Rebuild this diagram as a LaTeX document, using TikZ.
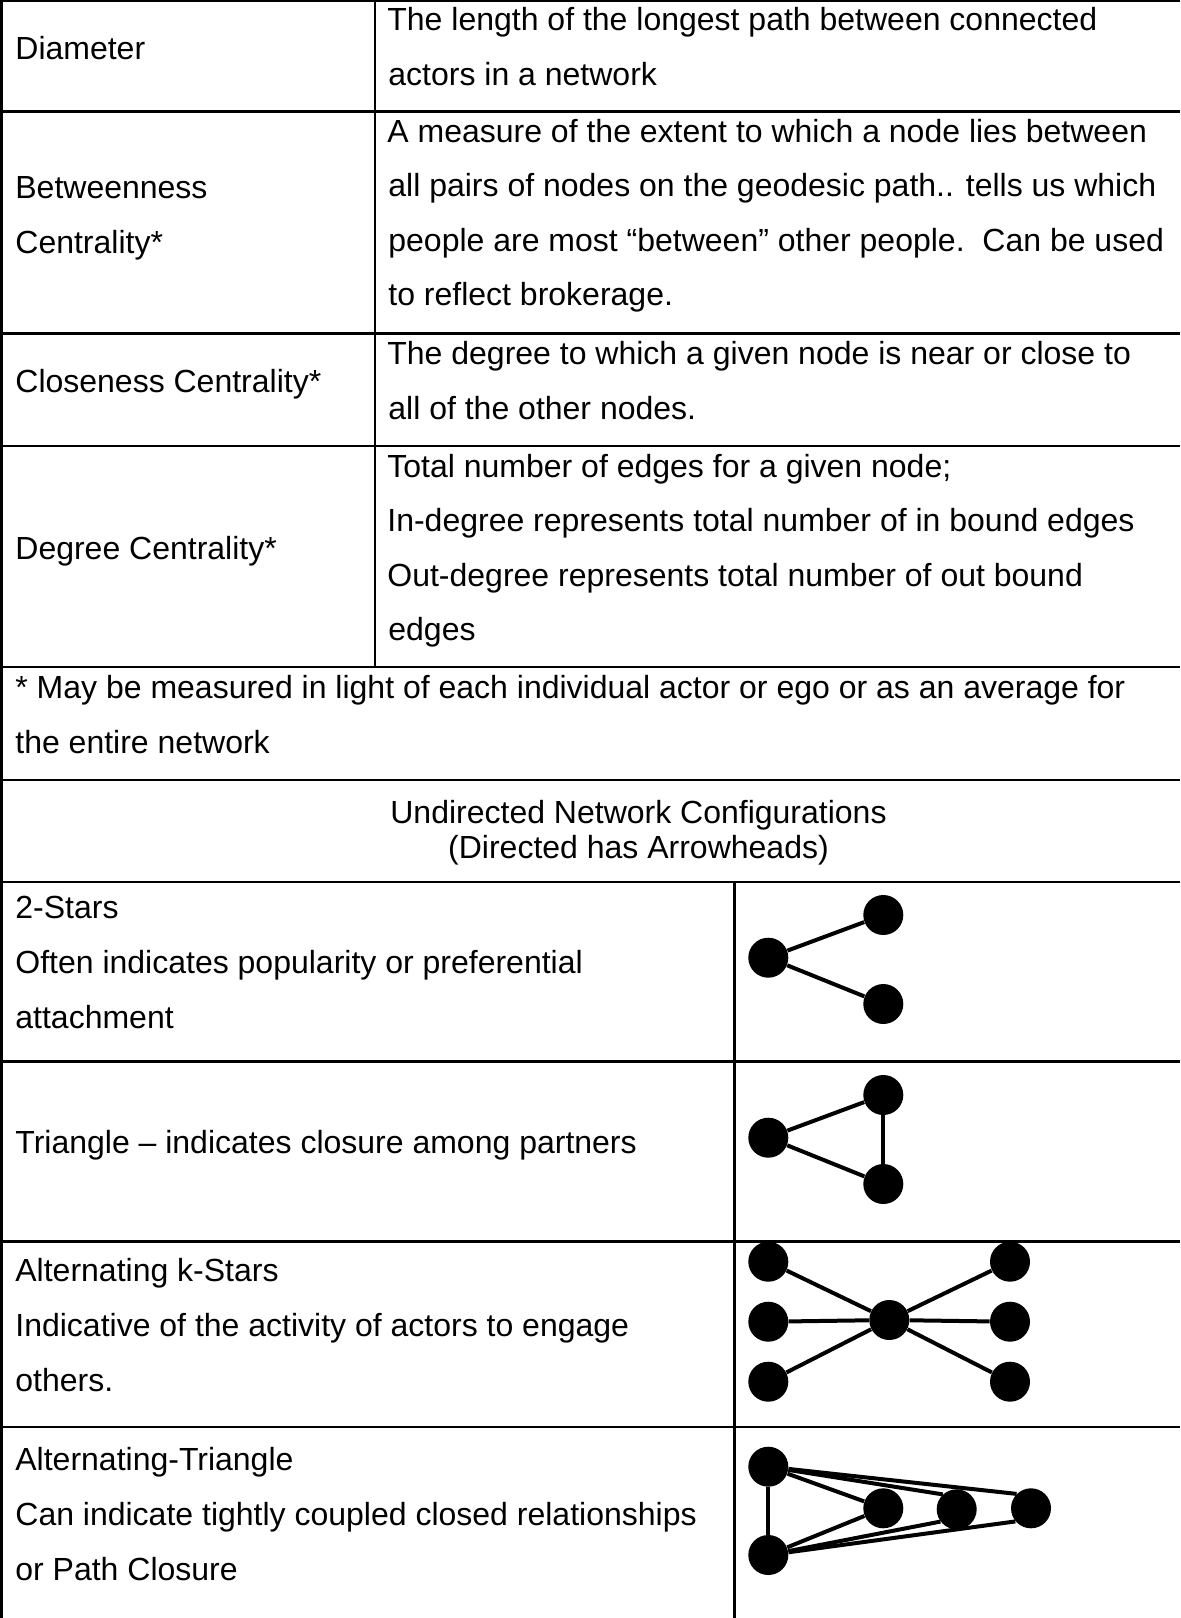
\documentclass[tikz,border=0pt]{standalone}
\usepackage{fontspec}
\setmainfont{Liberation Sans}
\begin{document}
\begin{tikzpicture}[x=0.5pt,y=-0.5pt,
  grid/.style={line width=1.25pt},
  txt/.style={anchor=base west,inner sep=0pt,font=\fontsize{16}{18}\selectfont},
  ctxt/.style={anchor=base,inner sep=0pt,font=\fontsize{16}{18}\selectfont},
  dot/.style={circle,fill=black,inner sep=0pt,minimum size=20pt},
  edge/.style={line width=2pt}]
\useasboundingbox (0,0) rectangle (1180,1618);
% table rules
\foreach \yy in {1,111.5,333.5,446,667,780,882,1061.5,1241.5,1427}
  \draw[grid] (0,\yy) -- (1180,\yy);
\draw[grid] (1.5,0) -- (1.5,1618);
\draw[grid] (375,1) -- (375,667);
\draw[grid] (734.5,882) -- (734.5,1618);
% row 1
\node[txt] (l1) at (15,59.3) {Diameter};
\node[txt] (r1a) at (387,30.7) {The length of the longest path between connected};
\node[txt] (r1b) at (388,85.2) {actors in a network};
% row 2
\node[txt] (l2a) at (15,198.3) {Betweenness};
\node[txt] (l2b) at (15,253.3) {Centrality*};
\node[txt] (r2a) at (387,142.3) {A measure of the extent to which a node lies between};
\node[txt] (r2b) at (388,196.8) {all pairs of nodes on the geodesic path.. tells us which};
\node[txt] (r2c) at (388,251.3) {people are most “between” other people.\ \ Can be used};
\node[txt] (r2d) at (388,305.8) {to reflect brokerage.};
% row 3
\node[txt] (l3) at (15,392.7) {Closeness Centrality*};
\node[txt] (r3a) at (387,364.5) {The degree to which a given node is near or close to};
\node[txt] (r3b) at (388,419.2) {all of the other nodes.};
% row 4
\node[txt] (l4) at (15,559.3) {Degree Centrality*};
\node[txt] (r4a) at (387,477) {Total number of edges for a given node;};
\node[txt] (r4b) at (387,531.5) {In-degree represents total number of in bound edges};
\node[txt] (r4c) at (387,586) {Out-degree represents total number of out bound};
\node[txt] (r4d) at (388,640.5) {edges};
% row 5
\node[txt] (n5a) at (15,698.3) {* May be measured in light of each individual actor or ego or as an average for};
\node[txt] (n5b) at (15,753.3) {the entire network};
% row 6
\node[ctxt] (h6a) at (638.5,823.8) {Undirected Network Configurations};
\node[ctxt] (h6b) at (638.5,858) {(Directed has Arrowheads)};
% row 7
\node[txt] (l7a) at (15,918.3) {2-Stars};
\node[txt] (l7b) at (15,973.3) {Often indicates popularity or preferential};
\node[txt] (l7c) at (15,1028.3) {attachment};
% row 8
\node[txt] (l8) at (15,1153) {Triangle – indicates closure among partners};
% row 9
\node[txt] (l9a) at (15,1281.7) {Alternating k-Stars};
\node[txt] (l9b) at (15,1336.7) {Indicative of the activity of actors to engage};
\node[txt] (l9c) at (15,1391.7) {others.};
% row 10
\node[txt] (l10a) at (15,1470) {Alternating-Triangle};
\node[txt] (l10b) at (15,1525) {Can indicate tightly coupled closed relationships};
\node[txt] (l10c) at (15,1580) {or Path Closure};
% 2-stars
\node[dot] (sa) at (768.3,957.7) {};
\node[dot] (sb) at (883.3,915) {};
\node[dot] (sc) at (883.3,1004) {};
\draw[edge] (sa) -- (sb);
\draw[edge] (sa) -- (sc);
% triangle
\node[dot] (ta) at (768.3,1137.7) {};
\node[dot] (tb) at (883.3,1095) {};
\node[dot] (tc) at (883.3,1184) {};
\draw[edge] (ta) -- (tb);
\draw[edge] (ta) -- (tc);
\draw[edge] (tb) -- (tc);
% alternating k-stars
\node[dot] (kc) at (889.3,1320) {};
\foreach \nm/\xx/\yy in {kl1/768.3/1261.7,kl2/768.3/1321.7,kl3/768.3/1381.7,kr1/1010/1261.7,kr2/1010/1321.7,kr3/1010/1381.7}{
  \node[dot] (\nm) at (\xx,\yy) {};
  \draw[edge] (kc) -- (\nm);
}
% alternating triangle
\node[dot] (at) at (768.3,1466.7) {};
\node[dot] (ab) at (768.3,1555) {};
\node[dot] (an1) at (883.3,1508.3) {};
\node[dot] (an2) at (956.7,1509.3) {};
\node[dot] (an3) at (1031,1508.3) {};
\draw[edge] (at) -- (ab);
\draw[edge] (at) -- (an1);
\draw[edge] (ab) -- (an1);
\draw[edge] (at) -- (an2.133);
\draw[edge] (at) -- (an3.135);
\draw[edge] (ab) -- (an2.217);
\draw[edge] (ab) -- (an3.220);
\end{tikzpicture}
\end{document}
